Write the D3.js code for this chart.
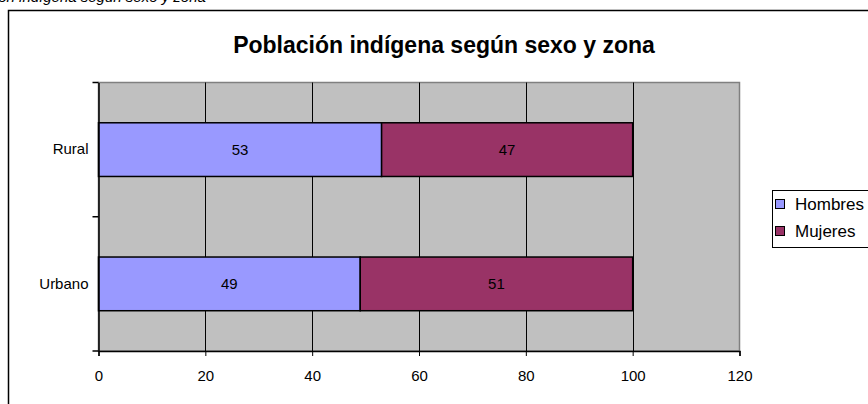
<!DOCTYPE html>
<html><head><meta charset="utf-8">
<script src="https://cdn.jsdelivr.net/npm/d3@7"></script>
<style>body{margin:0;background:#fff}svg{display:block}</style>
</head><body>
<script>
const categories = ["Rural", "Urbano"];
const seriesNames = ["Hombres", "Mujeres"];
const hombres = [53, 49];
const mujeres = [47, 51];
const xTicks = [0, 20, 40, 60, 80, 100, 120];
const title = "Población indígena según sexo y zona";
const caption = "Población indígena según sexo y zona";
const colors = ["#9999FF", "#993366"];

const W = 868, H = 404;
const svg = d3.select("body").append("svg").attr("width", W).attr("height", H);
const font = "'Liberation Sans', Arial, sans-serif";

// caption above the chart, cut off by the top edge as in the reference
svg.append("text").attr("x", -51).attr("y", 2).attr("font-family", font)
  .attr("font-style", "italic").attr("font-size", 15).text(caption);

// chart area border
svg.append("rect").attr("x", 8.5).attr("y", 10.5).attr("width", 900).attr("height", 420)
  .attr("fill", "#fff").attr("stroke", "#000").attr("stroke-width", 1.5);

svg.append("text").attr("x", 444).attr("y", 53).attr("text-anchor", "middle")
  .attr("font-family", font).attr("font-weight", "bold").attr("font-size", 23).text(title);

const m = {l: 98.5, r: 739.5, t: 82.5, b: 351};
const x = d3.scaleLinear().domain([0, 120]).range([m.l, m.r]);
const y = d3.scaleBand().domain(categories).range([m.t, m.b]);

const g = svg.append("g");
g.append("rect").attr("x", m.l).attr("y", m.t).attr("width", m.r - m.l).attr("height", m.b - m.t)
  .attr("fill", "#C0C0C0").attr("stroke", "#808080").attr("stroke-width", 1.5);

// vertical grid
g.selectAll("line.grid").data(xTicks.slice(1, -1)).join("line")
  .attr("x1", d => Math.round(x(d)) + 0.5).attr("x2", d => Math.round(x(d)) + 0.5)
  .attr("y1", m.t).attr("y2", m.b).attr("stroke", "#000").attr("stroke-width", 1);

// bars
const stack = categories.map((c, i) => {
  const vals = [hombres[i], mujeres[i]];
  let acc = 0;
  return vals.map((v, j) => { const s = acc; acc += v; return {cat: c, j, x0: s, x1: acc, v}; });
}).flat();
const bh = y.bandwidth() * 0.4;
g.selectAll("rect.bar").data(stack).join("rect")
  .attr("x", d => x(d.x0)).attr("width", d => x(d.x1) - x(d.x0))
  .attr("y", d => y(d.cat) + (y.bandwidth() - bh) / 2).attr("height", bh)
  .attr("fill", d => colors[d.j]).attr("stroke", "#000").attr("stroke-width", 1.5);
g.selectAll("text.lbl").data(stack).join("text")
  .attr("x", d => (x(d.x0) + x(d.x1)) / 2).attr("y", d => y(d.cat) + y.bandwidth() / 2 + 5)
  .attr("text-anchor", "middle").attr("font-family", font).attr("font-size", 15).text(d => d.v);

// axes
const xAxis = d3.axisBottom(x).tickValues(xTicks).tickSize(5).tickPadding(14);
const ax = svg.append("g").attr("transform", `translate(0,${m.b})`).call(xAxis);
ax.select(".domain").attr("stroke", "#000").attr("stroke-width", 1.5);
ax.selectAll("text").attr("font-family", font).attr("font-size", 15).attr("fill", "#000");

const yAxis = d3.axisLeft(y).tickSize(0).tickPadding(10);
const ay = svg.append("g").attr("transform", `translate(${m.l},0)`).call(yAxis);
ay.select(".domain").attr("stroke", "#000").attr("stroke-width", 1.5);
ay.selectAll("text").attr("font-family", font).attr("font-size", 15).attr("fill", "#000");
// category boundary ticks
const bounds = [m.t, m.t + y.step(), m.b];
ay.selectAll("line.bt").data(bounds).join("line")
  .attr("x1", -6).attr("x2", 0).attr("y1", d => d).attr("y2", d => d)
  .attr("stroke", "#000").attr("stroke-width", 1.5);

// legend
const lg = svg.append("g").attr("transform", "translate(772,190)");
lg.append("rect").attr("x", 0.5).attr("y", 0.5).attr("width", 120).attr("height", 57)
  .attr("fill", "#fff").attr("stroke", "#000").attr("stroke-width", 1);
seriesNames.forEach((n, i) => {
  const yy = 14 + i * 27;
  lg.append("rect").attr("x", 3.5).attr("y", yy - 4.5).attr("width", 9).attr("height", 9)
    .attr("fill", colors[i]).attr("stroke", "#000").attr("stroke-width", 1);
  lg.append("text").attr("x", 23).attr("y", yy + 6).attr("font-family", font)
    .attr("font-size", 17).text(n);
});
</script>
</body></html>
